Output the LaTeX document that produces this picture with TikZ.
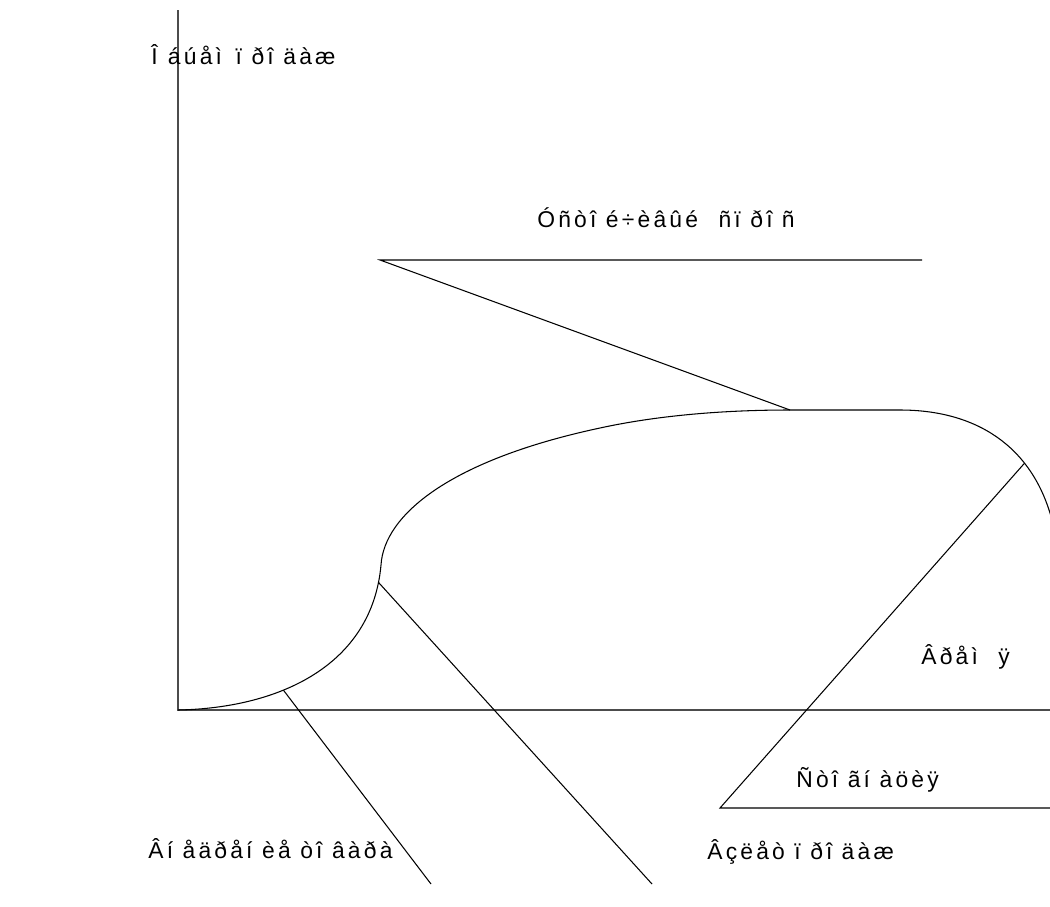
\documentclass[tikz,border=0pt]{standalone}
\usepackage{fontspec}
\newfontfamily\lblfont[LetterSpace=14]{Liberation Sans}
\usetikzlibrary{positioning}

\begin{document}
\begin{tikzpicture}[
      x=0.02cm, y=-0.02cm,
      axisln/.style={draw=black!70, line width=0.9pt},
      curveln/.style={draw=black, line width=0.6pt},
      leadln/.style={draw=black, line width=0.6pt},
      lbl/.style={font=\lblfont\fontsize{13}{15}\selectfont, inner sep=0pt, anchor=west}
    ]
      \useasboundingbox (0,0) rectangle (1050,906);
      \clip (0,0) rectangle (1050,906);
      % axes
      \coordinate (O) at (178,710);
      \coordinate (ytop) at (178,10);
      \coordinate (xend) at (1050,710);
      \draw[axisln] (ytop) -- (O) -- (xend);
      % life cycle curve
      \draw[curveln] (O)
        .. controls (280,708) and (372,665) .. coordinate[pos=0.37] (pIntro) coordinate[pos=0.94] (pGrowth) (381,565)
        .. controls (384,515) and (450,460) .. (600,428)
        .. controls (655,416) and (720,410) .. (790,410) coordinate (pTop)
        -- (900,410)
        .. controls (975,410) and (1032,445) .. coordinate[pos=0.7] (pDecl) (1052,520);
      % leaders
      \coordinate (tKnee) at (380,260);
      \coordinate (tEnd) at (922,260);
      \coordinate (iEnd) at (431,884);
      \coordinate (gEnd) at (652,884);
      \coordinate (sKnee) at (720,808);
      \coordinate (sEnd) at (1050,808);
      \draw[leadln] (pTop) -- (tKnee) -- (tEnd);
      \draw[leadln] (pIntro) -- (iEnd);
      \draw[leadln] (pGrowth) -- (gEnd);
      \draw[leadln] (pDecl) -- (sKnee) -- (sEnd);
      % labels
      \node[lbl] (yLab) at (151,55) {Î\hspace{.45em}áúåì\hspace{.6em}ï ðî äàæ};
      \node[lbl] (steady) at (537,218) {Óñòî é÷èâûé\hspace{.9em}ñï ðî\hspace{.4em}ñ};
      \node[lbl] (xLab) at (921,657) {Âðåì\hspace{.9em}ÿ};
      \node[lbl] (stag) at (796,780) {Ñòî ãí àöèÿ};
      \node[lbl] (intro) at (148,849) {Âí åäðåí èå òî âàðà};
      \node[lbl] (growth) at (707,852) {Âçëåò ï ðî\hspace{.4em}äàæ};
    \end{tikzpicture}
\end{document}
